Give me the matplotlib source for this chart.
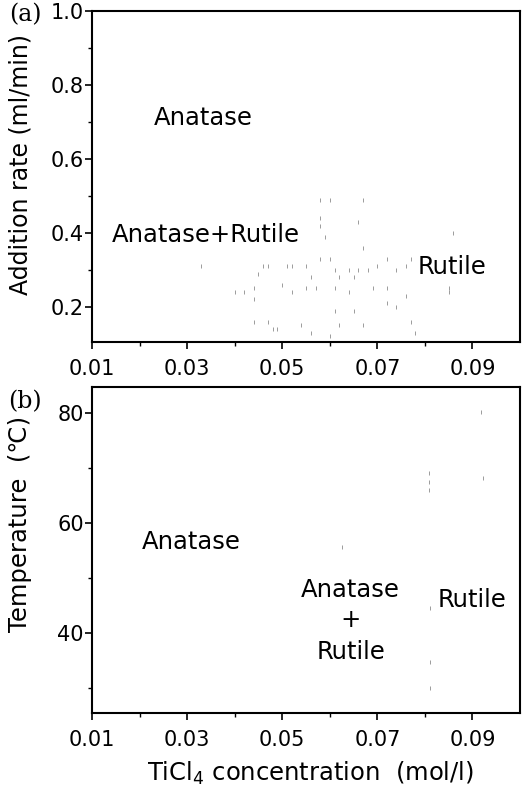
import numpy as np
import matplotlib.pyplot as plt

plt.rcParams['font.family'] = 'DejaVu Sans'

# panel (a): faint scan marks left from the phase boundaries (TiCl4, addition rate)
marks_a_x = [0.033, 0.040, 0.042, 0.044, 0.044, 0.044, 0.045, 0.046, 0.047, 0.047,
             0.048, 0.049, 0.050, 0.051, 0.052, 0.052, 0.054, 0.055, 0.055, 0.056,
             0.056, 0.057, 0.058, 0.058, 0.058, 0.058, 0.059, 0.060, 0.060, 0.060,
             0.061, 0.061, 0.061, 0.062, 0.062, 0.064, 0.064, 0.065, 0.065, 0.066,
             0.066, 0.067, 0.067, 0.067, 0.068, 0.069, 0.070, 0.072, 0.072, 0.072,
             0.074, 0.074, 0.076, 0.076, 0.077, 0.078, 0.077, 0.085, 0.085, 0.086]
marks_a_y = [0.31, 0.24, 0.24, 0.25, 0.22, 0.16, 0.29, 0.31, 0.16, 0.31,
             0.14, 0.14, 0.26, 0.31, 0.24, 0.31, 0.15, 0.25, 0.31, 0.13,
             0.28, 0.25, 0.33, 0.49, 0.44, 0.42, 0.39, 0.49, 0.12, 0.33,
             0.19, 0.25, 0.30, 0.15, 0.28, 0.30, 0.24, 0.19, 0.28, 0.30,
             0.43, 0.49, 0.15, 0.36, 0.30, 0.25, 0.31, 0.33, 0.25, 0.21,
             0.20, 0.30, 0.23, 0.31, 0.16, 0.13, 0.33, 0.24, 0.25, 0.40]

# panel (b): faint scan marks (TiCl4, temperature)
marks_b_x = [0.0808, 0.0808, 0.0808, 0.0625, 0.0810, 0.0810, 0.0810, 0.0917, 0.0922]
marks_b_y = [66.0, 67.5, 69.0, 55.6, 44.5, 34.7, 30.0, 80.2, 68.2]

labels_a = ['Anatase', 'Anatase+Rutile', 'Rutile']
labels_a_x = [0.0333, 0.034, 0.0856]
labels_a_y = [0.711, 0.395, 0.308]

labels_b = ['Anatase', 'Anatase', '+', 'Rutile', 'Rutile']
labels_b_x = [0.0308, 0.0644, 0.0644, 0.0644, 0.0898]
labels_b_y = [56.5, 47.8, 42.4, 36.6, 46.0]

fig = plt.figure(figsize=(5.25, 7.87), dpi=100)
ax1 = fig.add_axes([0.1752, 0.5654, 0.8153, 0.4206])
ax2 = fig.add_axes([0.1752, 0.0940, 0.8153, 0.4143])

for ax in (ax1, ax2):
    for s in ax.spines.values():
        s.set_linewidth(1.5)
    ax.set_xlim(0.01, 0.1)
    ax.set_xticks([0.01, 0.03, 0.05, 0.07, 0.09])
    ax.set_xticklabels(['0.01', '0.03', '0.05', '0.07', '0.09'])
    ax.set_xticks([0.02, 0.04, 0.06, 0.08], minor=True)
    ax.tick_params(which='major', direction='out', length=5, width=1.2, labelsize=15)
    ax.tick_params(which='minor', direction='out', length=3, width=1.0)
    ax.tick_params(axis='x', which='major', pad=7)
    ax.tick_params(axis='y', which='major', pad=1)

ax1.set_ylim(0.105, 1.0)
ax1.set_yticks([0.2, 0.4, 0.6, 0.8, 1.0])
ax1.set_yticklabels(['0.2', '0.4', '0.6', '0.8', '1.0'])
ax1.set_yticks([0.3, 0.5, 0.7, 0.9], minor=True)
ax1.plot(marks_a_x, marks_a_y, ls='none', marker='|', ms=2.5, mew=0.6, color='0.55')
for t, x, y in zip(labels_a, labels_a_x, labels_a_y):
    ax1.text(x, y, t, ha='center', va='center', fontsize=17.5)
ax1.set_ylabel('Addition rate (ml/min)', fontsize=17)
ax1.yaxis.set_label_coords(-0.14, 0.535)

ax2.set_ylim(25.5, 84.7)
ax2.set_yticks([40, 60, 80])
ax2.set_yticks([30, 50, 70], minor=True)
ax2.plot(marks_b_x, marks_b_y, ls='none', marker='|', ms=2.5, mew=0.6, color='0.55')
for t, x, y in zip(labels_b, labels_b_x, labels_b_y):
    ax2.text(x, y, t, ha='center', va='center', fontsize=17.5)
ax2.set_ylabel('Temperature  (\u2103)', fontsize=17.5)
ax2.yaxis.set_label_coords(-0.14, 0.58)
ax2.set_xlabel('TiCl$_4$ concentration  (mol/l)', fontsize=17.5)
ax2.xaxis.set_label_coords(0.51, -0.145)

fig.text(25/525, 1 - 15/787, '(a)', family='DejaVu Serif', fontsize=17, ha='center', va='center')
fig.text(25/525, 1 - 402/787, '(b)', family='DejaVu Serif', fontsize=17, ha='center', va='center')

fig.savefig('out.png', dpi=100)
